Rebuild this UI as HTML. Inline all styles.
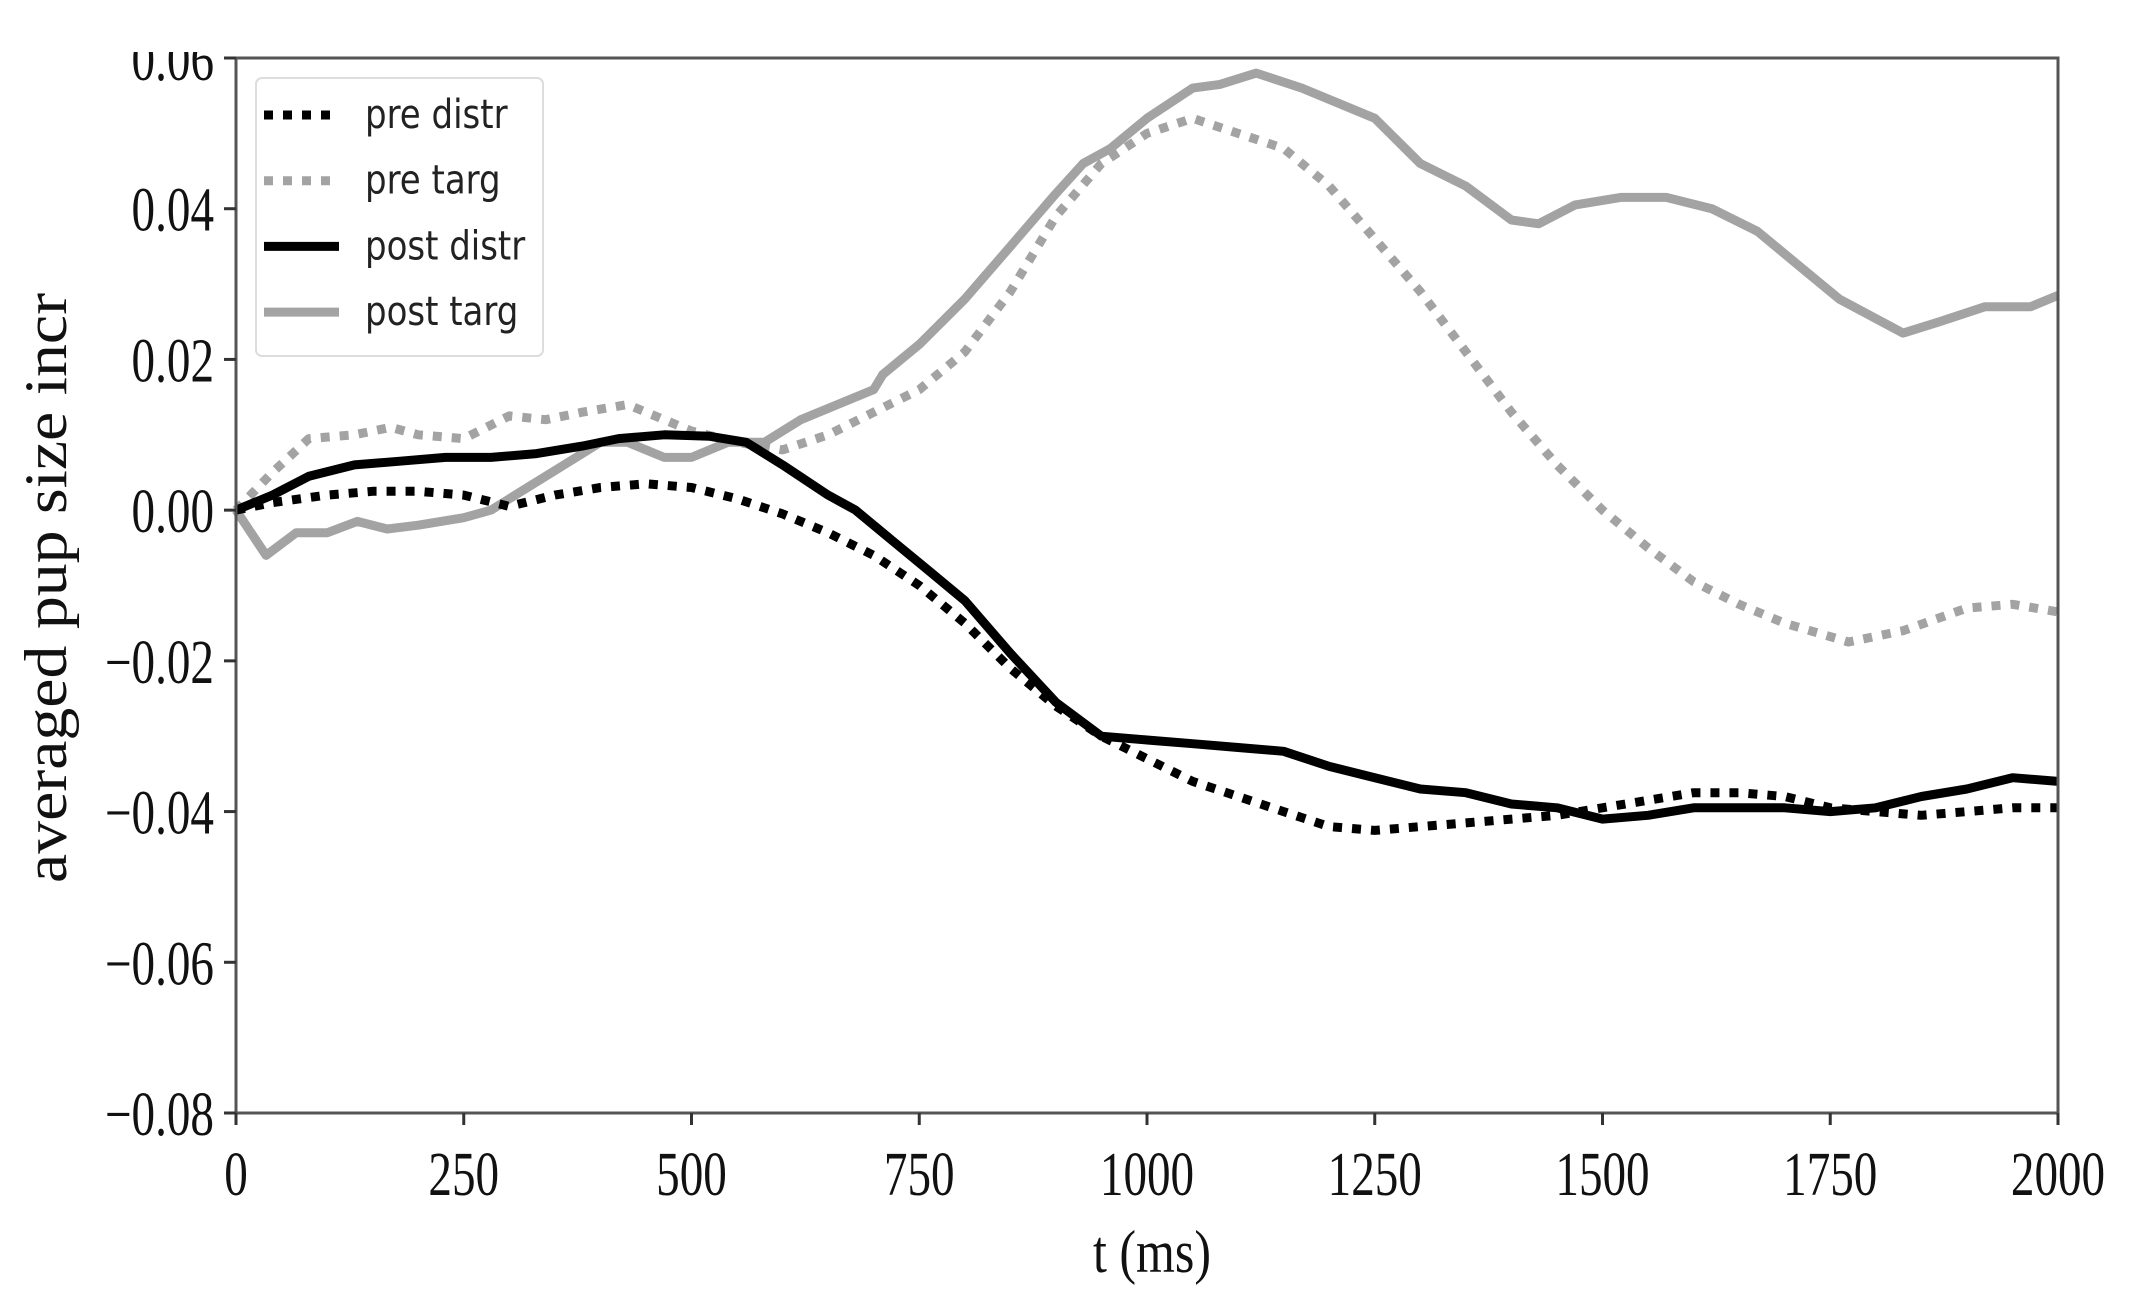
<!DOCTYPE html>
<html><head><meta charset="utf-8"><style>html,body{margin:0;padding:0;background:#fff}svg{display:block}</style></head>
<body>
<svg id="chart" xmlns="http://www.w3.org/2000/svg" width="2134" height="1311" viewBox="0 0 2134 1311">
<rect x="0" y="0" width="2134" height="1311" fill="#fff"/>
<g id="plot"></g>
</svg>
<script>
const xTicks = [0,250,500,750,1000,1250,1500,1750,2000];
const yTicks = [0.06,0.04,0.02,0.00,-0.02,-0.04,-0.06,-0.08];
const yTickLabels = ["0.06","0.04","0.02","0.00","\u22120.02","\u22120.04","\u22120.06","\u22120.08"];
const seriesNames = ["pre distr","pre targ","post distr","post targ"];
const postTargT = [0,33,66,100,133,166,200,250,280,320,360,400,430,470,500,540,580,620,660,700,710,750,800,850,900,930,960,1000,1050,1080,1120,1170,1250,1300,1350,1400,1430,1470,1520,1570,1620,1670,1720,1760,1830,1870,1920,1970,2000];
const postTargV = [0,-0.006,-0.003,-0.003,-0.0015,-0.0025,-0.002,-0.001,0,0.003,0.006,0.009,0.009,0.007,0.007,0.009,0.009,0.012,0.014,0.016,0.018,0.022,0.028,0.035,0.042,0.046,0.048,0.052,0.056,0.0565,0.058,0.056,0.052,0.046,0.043,0.0385,0.038,0.0405,0.0415,0.0415,0.040,0.037,0.032,0.028,0.0235,0.025,0.027,0.027,0.0285];
const preTargT = [0,40,80,130,170,200,250,300,340,380,430,470,500,550,600,650,700,750,800,850,900,950,1000,1050,1100,1150,1200,1250,1300,1350,1400,1450,1500,1550,1600,1650,1700,1770,1830,1900,1950,2000];
const preTargV = [0,0.005,0.0095,0.010,0.011,0.010,0.0095,0.0125,0.012,0.013,0.014,0.012,0.0105,0.009,0.008,0.010,0.013,0.016,0.021,0.029,0.039,0.046,0.050,0.052,0.050,0.048,0.043,0.036,0.029,0.021,0.013,0.006,0.000,-0.005,-0.0095,-0.0125,-0.015,-0.0175,-0.016,-0.013,-0.0125,-0.0135];
const postDistrT = [0,40,80,130,180,230,280,330,380,420,470,520,560,600,650,680,720,760,800,850,900,950,1000,1050,1100,1150,1200,1250,1300,1350,1400,1450,1500,1550,1600,1650,1700,1750,1800,1850,1900,1950,2000];
const postDistrV = [0,0.002,0.0045,0.006,0.0065,0.007,0.007,0.0075,0.0085,0.0095,0.010,0.0098,0.009,0.006,0.002,0,-0.004,-0.008,-0.012,-0.019,-0.0255,-0.030,-0.0305,-0.031,-0.0315,-0.032,-0.034,-0.0355,-0.037,-0.0375,-0.039,-0.0395,-0.041,-0.0405,-0.0395,-0.0395,-0.0395,-0.040,-0.0395,-0.038,-0.037,-0.0355,-0.036];
const preDistrT = [0,40,100,150,200,250,300,350,400,450,500,550,600,650,700,750,800,850,900,950,1000,1050,1100,1150,1200,1250,1300,1350,1400,1450,1500,1550,1600,1650,1700,1750,1800,1850,1900,1950,2000];
const preDistrV = [0,0.001,0.002,0.0025,0.0025,0.002,0.0005,0.002,0.003,0.0035,0.003,0.0015,-0.0005,-0.003,-0.006,-0.010,-0.015,-0.021,-0.026,-0.030,-0.033,-0.036,-0.038,-0.040,-0.042,-0.0425,-0.042,-0.0415,-0.041,-0.0405,-0.0395,-0.0385,-0.0375,-0.0375,-0.038,-0.0395,-0.040,-0.0405,-0.040,-0.0395,-0.0395];

const NS="http://www.w3.org/2000/svg";
const L=236,R=2058,T=58,B=1113;
const xS=t=>L+(t-0)/(2000-0)*(R-L);
const yS=v=>T+(0.06-v)/(0.06+0.08)*(B-T);
const g=document.getElementById('plot');
function mk(tag,attrs,parent){const e=document.createElementNS(NS,tag);for(const k in attrs)e.setAttribute(k,attrs[k]);(parent||g).appendChild(e);return e;}

function line(ts,vs,stroke,w,dash,name){
  const d=ts.map((t,i)=>(i?'L':'M')+xS(t).toFixed(1)+' '+yS(vs[i]).toFixed(1)).join(' ');
  const p=mk('path',{d:d,fill:'none',stroke:stroke,'stroke-width':w,'stroke-linejoin':'round'});
  if(dash)p.setAttribute('stroke-dasharray',dash);
  
  
}
const GRAY='#a3a3a3';
line(postTargT,postTargV,GRAY,9,null,'post-targ-line');
line(preTargT,preTargV,GRAY,9,'9 10','pre-targ-line');
line(postDistrT,postDistrV,'#000',9,null,'post-distr-line');
line(preDistrT,preDistrV,'#000',9,'9 10','pre-distr-line');

const fr=mk('rect',{x:L,y:T,width:R-L,height:B-T,fill:'none',stroke:'#555','stroke-width':3});



xTicks.forEach(t=>{
  const x=xS(t);
  mk('line',{x1:x,y1:B,x2:x,y2:B+12,stroke:'#333','stroke-width':3});
  const tx=mk('text',{x:0,y:0,'font-family':'Liberation Serif, serif','font-size':62,'text-anchor':'middle',fill:'#111',transform:`translate(${x},${B+82}) scale(0.76,1)`});
  tx.textContent=t;
  
  
});
yTicks.forEach((v,i)=>{
  const y=yS(v);
  mk('line',{x1:L-12,y1:y,x2:L,y2:y,stroke:'#333','stroke-width':3});
  const tx=mk('text',{x:0,y:0,'font-family':'Liberation Serif, serif','font-size':62,'text-anchor':'end',fill:'#111',transform:`translate(${L-22},${y+22}) scale(0.76,1)`});
  tx.textContent=yTickLabels[i];
  
  
});
mk('rect',{x:0,y:0,width:L-4,height:52,fill:'#fff'});

const xt=mk('text',{x:1152,y:1272,'font-family':'Liberation Serif, serif','font-size':60,'text-anchor':'middle',fill:'#111',textLength:118,lengthAdjust:'spacingAndGlyphs'});
xt.textContent='t (ms)';


const yt=mk('text',{x:0,y:0,'font-family':'Liberation Serif, serif','font-size':60,'text-anchor':'middle',fill:'#111',textLength:590,lengthAdjust:'spacingAndGlyphs',transform:'translate(66,588) rotate(-90)'});
yt.textContent='averaged pup size incr';



const lg=mk('g',{});


mk('rect',{x:256,y:78,width:287,height:278,rx:6,fill:'#fff',stroke:'#ddd','stroke-width':2},lg);
const styles=[['#000','9 10'],[GRAY,'9 10'],['#000',null],[GRAY,null]];
seriesNames.forEach((n,i)=>{
  const y=115+i*65.7;
  const e=mk('g',{},lg);
  
  
  const ln=mk('line',{x1:264,y1:y,x2:339,y2:y,stroke:styles[i][0],'stroke-width':9},e);
  if(styles[i][1])ln.setAttribute('stroke-dasharray',styles[i][1]);
  const tx=mk('text',{x:0,y:0,'font-family':'DejaVu Sans, sans-serif','font-size':40,fill:'#222',transform:`translate(365,${y+13}) scale(0.85,1)`},e);
  tx.textContent=n;
});
</script>
</body></html>
